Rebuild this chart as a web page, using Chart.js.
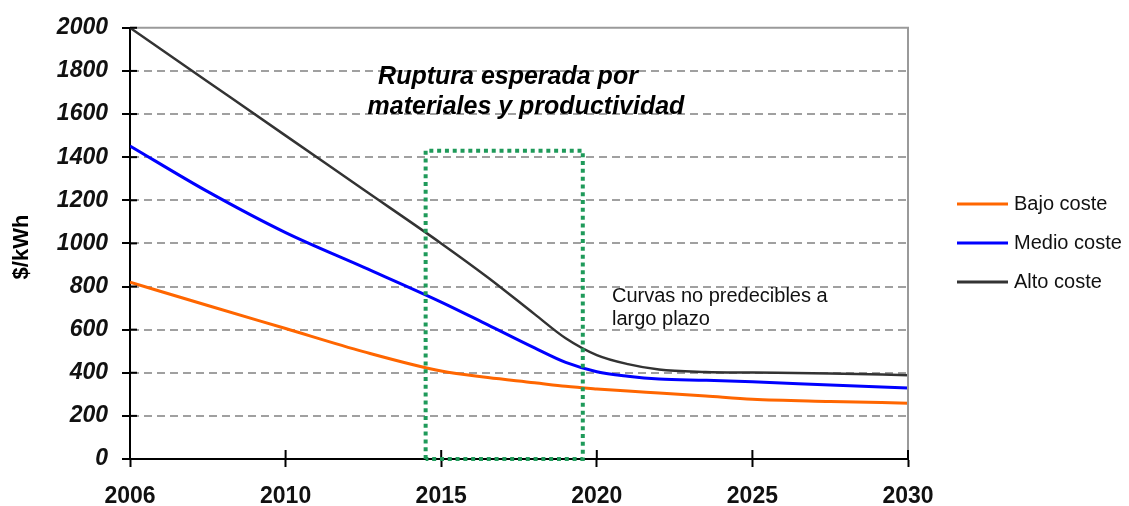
<!DOCTYPE html>
<html>
<head>
<meta charset="utf-8">
<script src="https://cdn.jsdelivr.net/npm/chart.js@4/dist/chart.umd.min.js"></script>
<style>
  html, body { margin: 0; padding: 0; background: #fff; }
</style>
</head>
<body>
<canvas id="chart" width="1129" height="506"></canvas>
<script>
// tick labels of the x axis (equally spaced on the original chart)
const yearLabels = ['2006', '2010', '2015', '2020', '2025', '2030'];
// x positions in tick-steps (0 = 2006 ... 5 = 2030)
const xPos  = [0,    0.5,  1,    1.5,  2,    2.3, 2.6, 2.8, 3,   3.2, 3.4, 3.7, 4,   4.5, 5];
const bajo  = [820,  712,  605,  498,  408,  378, 354, 337, 325, 315, 306, 292, 277, 267, 259];
const medio = [1452, 1240, 1050, 890,  728,  622, 515, 448, 405, 384, 371, 365, 358, 343, 329];
const alto  = [2000, 1750, 1500, 1250, 1000, 842, 672, 560, 482, 440, 415, 404, 401, 396, 389];

const seriesNames  = ['Bajo coste', 'Medio coste', 'Alto coste'];
const seriesColors = ['#ff6600', '#0000ff', '#333333'];

// dotted box: "ruptura esperada" between these x positions, up to this value
const boxX = [1.9, 2.91];
const boxTop = 1430;

function toPoints(vals) {
    return xPos.map(function (x, i) { return { x: x, y: vals[i] }; });
}

// extra drawing: frame, inner tick halves, dotted box, texts, legend
const extras = {
    id: 'extras',
    afterDraw: function (chart) {
        const ctx = chart.ctx;
        const a = chart.chartArea;
        const xs = chart.scales.x, ys = chart.scales.y;
        ctx.save();

        // grey top / right frame
        ctx.strokeStyle = '#9a9a9a';
        ctx.lineWidth = 2;
        ctx.beginPath();
        ctx.moveTo(a.left, a.top); ctx.lineTo(a.right, a.top); ctx.lineTo(a.right, a.bottom);
        ctx.stroke();

        // tick marks crossing the axes
        ctx.strokeStyle = '#000';
        ctx.lineWidth = 2;
        ys.ticks.forEach(function (t) {
            const y = ys.getPixelForValue(t.value);
            ctx.beginPath(); ctx.moveTo(a.left, y); ctx.lineTo(a.left + 7, y); ctx.stroke();
        });
        xs.ticks.forEach(function (t) {
            const x = xs.getPixelForValue(t.value);
            ctx.beginPath(); ctx.moveTo(x, a.bottom); ctx.lineTo(x, a.bottom - 9); ctx.stroke();
        });

        // green dotted box
        const bx0 = xs.getPixelForValue(boxX[0]), bx1 = xs.getPixelForValue(boxX[1]);
        const by0 = ys.getPixelForValue(boxTop), by1 = ys.getPixelForValue(0);
        ctx.strokeStyle = '#1f9a5a';
        ctx.lineWidth = 4;
        ctx.setLineDash([4, 3.8]);
        ctx.beginPath();
        ctx.moveTo(bx0, by1); ctx.lineTo(bx0, by0); ctx.lineTo(bx1, by0); ctx.lineTo(bx1, by1); ctx.lineTo(bx0, by1);
        ctx.stroke();
        ctx.setLineDash([]);

        // annotation texts
        ctx.fillStyle = '#000';
        ctx.textBaseline = 'middle';
        ctx.textAlign = 'center';
        ctx.font = 'italic bold 25px "Liberation Sans", Arial, sans-serif';
        ctx.fillText('Ruptura esperada por', 508, 77);
        ctx.fillText('materiales y productividad', 526, 107);

        ctx.fillStyle = '#111';
        ctx.textAlign = 'left';
        ctx.font = '20px "Liberation Sans", Arial, sans-serif';
        ctx.fillText('Curvas no predecibles a', 612, 296);
        ctx.fillText('largo plazo', 612, 319);

        // legend
        const rows = [204, 243, 282];
        chart.data.datasets.forEach(function (ds, i) {
            ctx.strokeStyle = ds.borderColor;
            ctx.lineWidth = 3;
            ctx.beginPath(); ctx.moveTo(957, rows[i]); ctx.lineTo(1008, rows[i]); ctx.stroke();
            ctx.fillStyle = '#111';
            ctx.fillText(ds.label, 1014, rows[i]);
        });

        // y axis title
        ctx.translate(22, 247);
        ctx.rotate(-Math.PI / 2);
        ctx.textAlign = 'center';
        ctx.fillStyle = '#000';
        ctx.font = 'bold 22px "Liberation Sans", Arial, sans-serif';
        ctx.fillText('$/kWh', 0, 0);

        ctx.restore();
    }
};

new Chart(document.getElementById('chart'), {
    type: 'line',
    data: {
        datasets: [
            { label: seriesNames[0], data: toPoints(bajo),  borderColor: seriesColors[0], borderWidth: 3 },
            { label: seriesNames[1], data: toPoints(medio), borderColor: seriesColors[1], borderWidth: 3 },
            { label: seriesNames[2], data: toPoints(alto),  borderColor: seriesColors[2], borderWidth: 2.5 }
        ]
    },
    options: {
        responsive: false,
        animation: false,
        events: [],
        cubicInterpolationMode: 'monotone',
        elements: { point: { radius: 0 } },
        layout: { padding: { top: 27, right: 221, left: 0, bottom: 0 } },
        plugins: { legend: { display: false }, tooltip: { enabled: false } },
        scales: {
            x: {
                type: 'linear', min: 0, max: 5,
                afterFit: function (s) { s.height = 47; },
                ticks: {
                    stepSize: 1,
                    callback: function (v) { return yearLabels[v]; },
                    color: '#111',
                    padding: 16,
                    maxRotation: 0,
                    font: { family: '"Liberation Sans", Arial, sans-serif', size: 23, weight: 'bold' }
                },
                grid: { drawOnChartArea: false, tickLength: 8, tickColor: '#000', tickWidth: 2 },
                border: { color: '#000', width: 2 }
            },
            y: {
                min: 0, max: 2000,
                afterFit: function (s) { s.width = 130; },
                ticks: {
                    stepSize: 200,
                    callback: function (v) { return String(v); },
                    color: '#111',
                    padding: 14,
                    font: { family: '"Liberation Sans", Arial, sans-serif', size: 23, weight: 'bold', style: 'italic' }
                },
                grid: {
                    color: function (c) { return (c.tick.value === 0 || c.tick.value === 2000) ? 'rgba(0,0,0,0)' : '#a0a0a0'; },
                    lineWidth: 2,
                    tickLength: 8, tickColor: '#000', tickWidth: 2
                },
                border: { color: '#000', width: 2, dash: [8, 5] }
            }
        }
    },
    plugins: [extras]
});
</script>
</body>
</html>
